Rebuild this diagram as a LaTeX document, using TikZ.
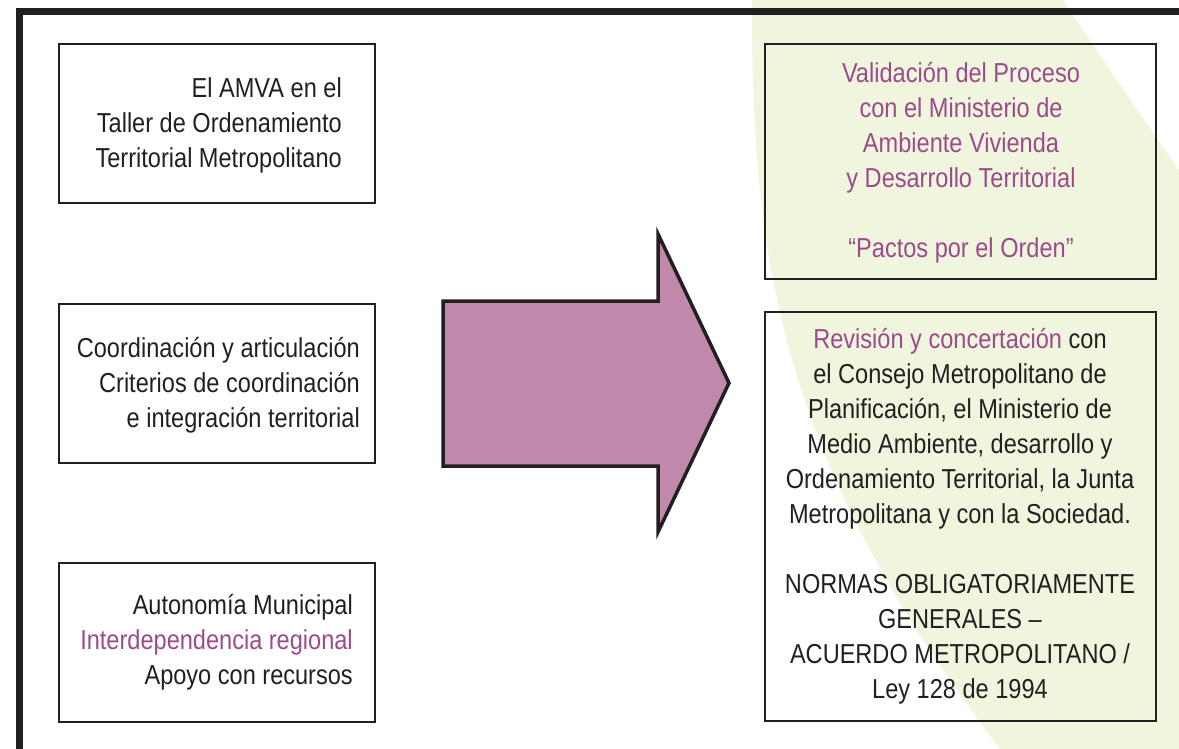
\documentclass[tikz,border=0pt]{standalone}
\usepackage{fontspec}
\setmainfont{Liberation Sans}[FakeStretch=0.86]
\definecolor{ink}{RGB}{35,31,32}
\definecolor{plum}{RGB}{156,74,138}
\definecolor{pale}{RGB}{240,246,222}
\definecolor{arrowfill}{RGB}{192,137,172}
\newcommand{\firstline}{\rule{0pt}{25pt}}
\begin{document}
\begin{tikzpicture}[x=1pt,y=-1pt,
  box/.style={draw=ink,line width=2pt,inner sep=0pt,minimum width=316pt,minimum height=159pt},
  rbox/.style={draw=ink,line width=2pt,inner sep=0pt,minimum width=391pt},
  txt/.style={inner sep=0pt,font=\fontsize{27.4}{35}\selectfont,text=ink}]
\useasboundingbox (0,0) rectangle (1179,749);
% pale green background band
\fill[pale] (752,0) .. controls (752,250) and (775,455) .. (1000,749) -- (1179,749) -- (1179,170) .. controls (1140,115) and (1100,55) .. (1063,0) -- cycle;
% frame
\draw[ink,line width=7pt,line join=miter] (19.5,749) -- (19.5,11.5) -- (1179,11.5);
% left boxes
\node[box] (b1) at (217,123.5) {};
\node[box] (b2) at (217,383.5) {};
\node[box] (b3) at (217,642) {};
% right boxes
\node[rbox,minimum height=235pt] (r1) at (960.5,161.5) {};
\node[rbox,minimum height=409pt] (r2) at (960.5,516.5) {};
% big arrow
\draw[ink,line width=3.5pt,fill=arrowfill,line join=miter]
  (443,301) -- (658,301) -- (658,234) -- (729,383) -- (658,532) -- (658,466) -- (443,466) -- cycle;
% texts
\node[txt,align=right,anchor=north east] (t1) at (342,72)
  {\firstline El AMVA en el\\Taller de Ordenamiento\\Territorial Metropolitano};
\node[txt,align=right,anchor=north east] (t2) at (360,332)
  {\firstline Coordinación y articulación\\Criterios de coordinación\\e integración territorial};
\node[txt,align=right,anchor=north east] (t3) at (353,589)
  {\firstline Autonomía Municipal\\\textcolor{plum}{Interdependencia regional}\\Apoyo con recursos};
\node[txt,text=plum,align=center,anchor=north] (t4) at (961,57)
  {\firstline Validación del Proceso\\con el Ministerio de\\Ambiente Vivienda\\y Desarrollo Territorial\\[35pt]“Pactos por el Orden”};
\node[txt,align=center,anchor=north] (t5) at (960,323)
  {\firstline\textcolor{plum}{Revisión y concertación} con\\el Consejo Metropolitano de\\Planificación, el Ministerio de\\Medio Ambiente, desarrollo y\\Ordenamiento Territorial, la Junta\\Metropolitana y con la Sociedad.\\[35pt]NORMAS OBLIGATORIAMENTE\\GENERALES –\\ACUERDO METROPOLITANO /\\Ley 128 de 1994};
\end{tikzpicture}
\end{document}
